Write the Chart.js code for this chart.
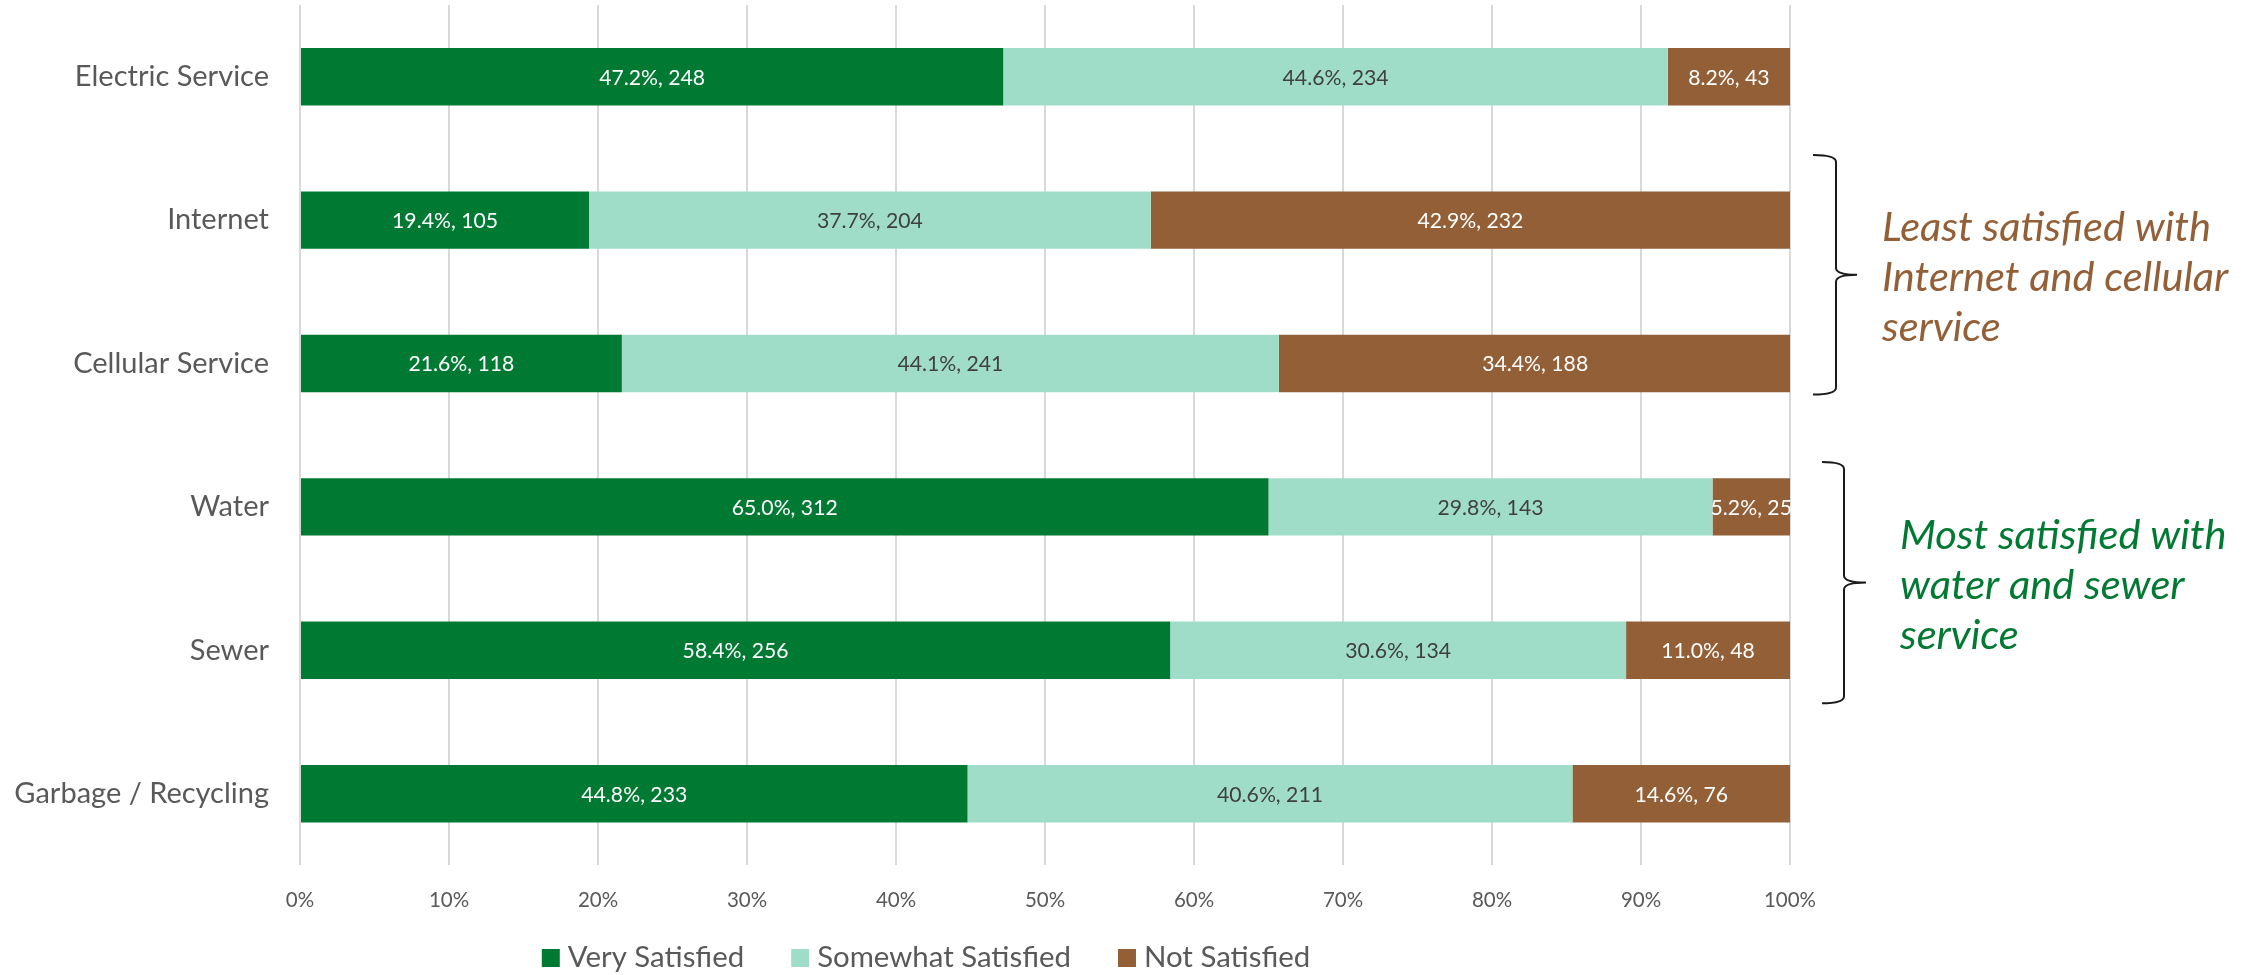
<!DOCTYPE html>
<html>
<head>
<meta charset="utf-8">
<script src="https://cdn.jsdelivr.net/npm/chart.js@4.4.1/dist/chart.umd.min.js"></script>
<style>
  html, body { margin: 0; padding: 0; background: #fff; }
  #wrap { width: 2253px; height: 975px; position: relative; }
</style>
</head>
<body>
<div id="wrap"><canvas id="chart"></canvas></div>
<script>
var categories = ['Electric Service', 'Internet', 'Cellular Service', 'Water', 'Sewer', 'Garbage / Recycling'];
var verySatisfiedPct = [47.2, 19.4, 21.6, 65.0, 58.4, 44.8];
var verySatisfiedN = [248, 105, 118, 312, 256, 233];
var somewhatPct = [44.6, 37.7, 44.1, 29.8, 30.6, 40.6];
var somewhatN = [234, 204, 241, 143, 134, 211];
var notSatisfiedPct = [8.2, 42.9, 34.4, 5.2, 11.0, 14.6];
var notSatisfiedN = [43, 232, 188, 25, 48, 76];
var xTicks = [0, 10, 20, 30, 40, 50, 60, 70, 80, 90, 100];
var leastNote = ['Least satisfied with', 'Internet and cellular', 'service'];
var mostNote = ['Most satisfied with', 'water and sewer', 'service'];

var FONT = 'Lato, "Open Sans", sans-serif';
var GREEN = '#007A33';
var TEAL = '#A0DDC9';
var BROWN = '#935F37';
var GREY = '#595959';

// pick font sizes so the text gets the same width as in the original (Calibri is not here)
var mctx = document.createElement('canvas').getContext('2d');
function fitSize(text, width, style) {
    mctx.font = (style || '') + ' 100px ' + FONT;
    return Math.round(1000 * width / mctx.measureText(text).width) / 10;
}
var yFont = fitSize('Garbage / Recycling', 255);
var tickFont = fitSize('100%', 52);
var dataFont = fitSize('47.2%, 248', 106);
var legendFont = fitSize('Somewhat Satisfied', 254);
var noteFont = fitSize('Internet and cellular', 346, 'italic');

// labels inside the bars: "47.2%, 248"
var barLabels = {
    id: 'barLabels',
    afterDatasetsDraw: function(chart) {
        var ctx = chart.ctx;
        ctx.save();
        ctx.font = dataFont + 'px ' + FONT;
        ctx.textAlign = 'center';
        ctx.textBaseline = 'middle';
        chart.data.datasets.forEach(function(ds, i) {
            var meta = chart.getDatasetMeta(i);
            meta.data.forEach(function(bar, j) {
                var cx = (bar.x + bar.base) / 2;
                ctx.fillStyle = ds.labelColor;
                ctx.fillText(ds.data[j].toFixed(1) + '%, ' + ds.counts[j], cx, bar.y + 1);
            });
        });
        ctx.restore();
    }
};

// legend drawn by hand so it can sit where Excel put it
var legendBox = {
    id: 'legendBox',
    afterDraw: function(chart) {
        var ctx = chart.ctx;
        var box = 18, gap = 8, between = 47, cy = 958, center = 926;
        ctx.save();
        ctx.font = legendFont + 'px ' + FONT;
        var widths = chart.data.datasets.map(function(ds) { return ctx.measureText(ds.label).width; });
        var total = widths.reduce(function(a, w) { return a + box + gap + w; }, 0) + between * (widths.length - 1);
        var x = center - total / 2;
        ctx.textAlign = 'left';
        ctx.textBaseline = 'middle';
        chart.data.datasets.forEach(function(ds, i) {
            ctx.fillStyle = ds.backgroundColor;
            ctx.fillRect(x, cy - box / 2, box, box);
            ctx.fillStyle = GREY;
            ctx.fillText(ds.label, x + box + gap, cy);
            x += box + gap + widths[i] + between;
        });
        ctx.restore();
    }
};

function drawBrace(ctx, xl, xs, xt, top, bottom) {
    var mid = (top + bottom) / 2;
    var r = 7;
    ctx.beginPath();
    ctx.moveTo(xl, top);
    ctx.quadraticCurveTo(xs, top, xs, top + r);
    ctx.lineTo(xs, mid - r);
    ctx.quadraticCurveTo(xs, mid, xt, mid);
    ctx.quadraticCurveTo(xs, mid, xs, mid + r);
    ctx.lineTo(xs, bottom - r);
    ctx.quadraticCurveTo(xs, bottom, xl, bottom);
    ctx.stroke();
}

// braces and notes on the right side
var notes = {
    id: 'notes',
    afterDraw: function(chart) {
        var ctx = chart.ctx;
        var y = chart.scales.y;
        ctx.save();
        ctx.strokeStyle = '#1a1a1a';
        ctx.lineWidth = 2;
        drawBrace(ctx, 1813, 1836, 1857, y.getPixelForValue(1) - 65, y.getPixelForValue(2) + 31);
        drawBrace(ctx, 1822, 1844, 1866, y.getPixelForValue(3) - 45, y.getPixelForValue(4) + 53);

        ctx.font = 'italic ' + noteFont + 'px ' + FONT;
        ctx.textAlign = 'left';
        ctx.textBaseline = 'alphabetic';
        ctx.fillStyle = BROWN;
        leastNote.forEach(function(t, i) {
            ctx.fillText(t, 1882, 241 + i * 50);
        });
        ctx.fillStyle = GREEN;
        mostNote.forEach(function(t, i) {
            ctx.fillText(t, 1900, 549 + i * 50);
        });
        ctx.restore();
    }
};

var ctx = document.getElementById('chart').getContext('2d');
var chart = new Chart(ctx, {
    type: 'bar',
    data: {
        labels: categories,
        datasets: [{
            label: 'Very Satisfied',
            data: verySatisfiedPct,
            counts: verySatisfiedN,
            backgroundColor: GREEN,
            labelColor: '#ffffff'
        }, {
            label: 'Somewhat Satisfied',
            data: somewhatPct,
            counts: somewhatN,
            backgroundColor: TEAL,
            labelColor: '#404040'
        }, {
            label: 'Not Satisfied',
            data: notSatisfiedPct,
            counts: notSatisfiedN,
            backgroundColor: BROWN,
            labelColor: '#ffffff'
        }]
    },
    options: {
        indexAxis: 'y',
        responsive: true,
        maintainAspectRatio: false,
        animation: false,
        categoryPercentage: 0.8,
        barPercentage: 0.5,
        layout: {
            padding: { top: 5, right: 463, bottom: 39, left: 0 }
        },
        scales: {
            x: {
                stacked: true,
                min: 0,
                max: 100,
                afterBuildTicks: function(scale) {
                    scale.ticks = xTicks.map(function(v) { return { value: v }; });
                },
                grid: { color: '#D9D9D9', lineWidth: 2, drawTicks: false },
                border: { display: false },
                ticks: {
                    color: GREY,
                    font: { family: FONT, size: tickFont },
                    padding: 23,
                    callback: function(v) { return v + '%'; }
                }
            },
            y: {
                stacked: true,
                grid: { display: false, drawTicks: false },
                border: { display: false },
                afterFit: function(scale) {
                    scale.width = 300;
                    scale.paddingTop = 0;
                    scale.paddingBottom = 0;
                },
                ticks: {
                    color: GREY,
                    font: { family: FONT, size: yFont },
                    padding: 31
                }
            }
        },
        plugins: {
            tooltip: { enabled: false },
            legend: { display: false }
        }
    },
    plugins: [barLabels, legendBox, notes]
});
</script>
</body>
</html>
